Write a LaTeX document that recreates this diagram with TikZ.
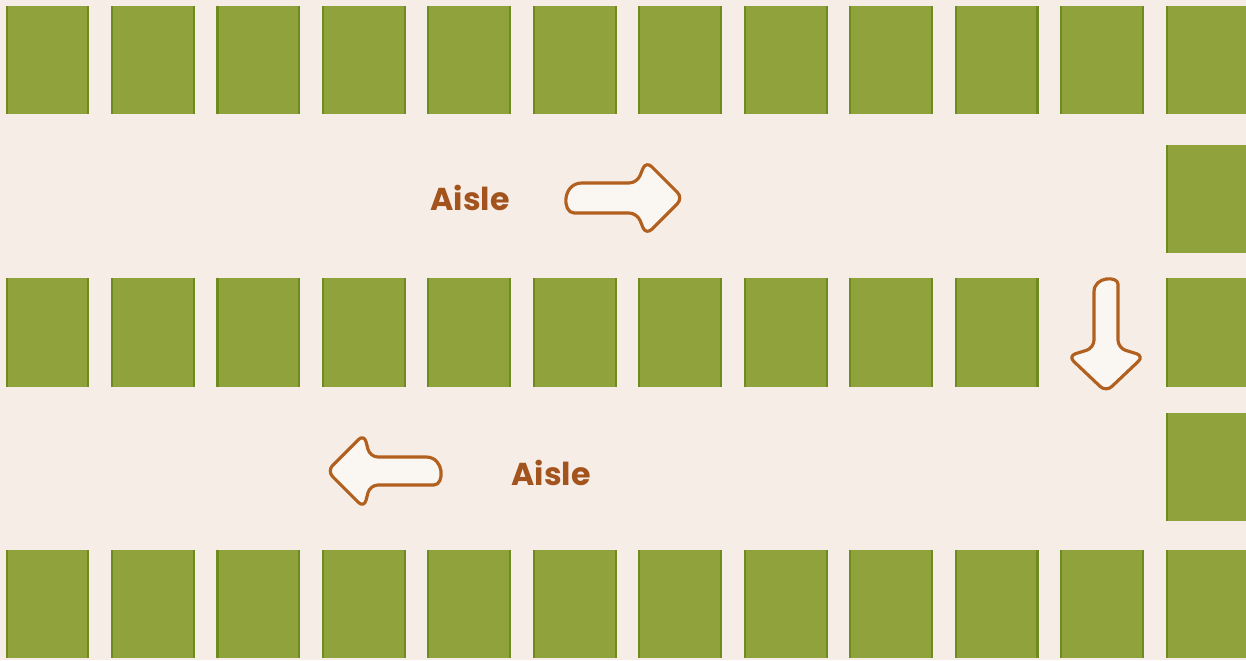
\documentclass[tikz,border=0pt]{standalone}
\usepackage{fontspec}
\setmainfont{Poppins}
\definecolor{bgcol}{HTML}{F6EEE6}
\definecolor{stallcol}{HTML}{8FA23B}
\definecolor{stalledge}{HTML}{6F8A1E}
\definecolor{arrowcol}{HTML}{B2601F}
\definecolor{textcol}{HTML}{A2531E}
\newcommand\stall[3]{%
  \fill[stallcol] (#1,#2) rectangle (#1+83,#3);
  \draw[stalledge,line width=1.2pt] (#1+0.6,#2) -- (#1+0.6,#3) (#1+82.4,#2) -- (#1+82.4,#3);}
\begin{document}
\begin{tikzpicture}[x=0.02cm,y=-0.02cm,
  arrowshape/.style={draw=arrowcol,line width=1.8pt,fill=white!50!bgcol,rounded corners=4.5pt,line join=round},
  aisle/.style={text=textcol,font=\bfseries\fontsize{18}{21}\selectfont,inner sep=0pt}]
\useasboundingbox (0,0) rectangle (1246,660);
\clip (0,0) rectangle (1246,660);
\fill[bgcol] (0,0) rectangle (1246,660);
% top and bottom rows
\foreach \i in {0,...,11}{
  \pgfmathsetmacro\xx{6+105.45*\i}
  \stall{\xx}{6}{114}
  \stall{\xx}{550}{658}
}
% middle row
\foreach \i in {0,...,9}{
  \pgfmathsetmacro\xx{6+105.45*\i}
  \stall{\xx}{278}{387}
}
% right column
\stall{1166}{145}{253}
\stall{1166}{278}{387}
\stall{1166}{413}{521}
% arrows
\draw[arrowshape] (610,183) -- (637,183) -- (646,161) -- (683,198) -- (646,235) -- (637,213) -- (582,213)
  [sharp corners] .. controls (562,213) and (562,183) .. (582,183) -- cycle;
\draw[arrowshape] (1094,320) -- (1094,348) -- (1068,356) -- (1106,392) -- (1144,356) -- (1118,348) -- (1118,292)
  [sharp corners] .. controls (1118,276) and (1094,276) .. (1094,292) -- cycle;
\draw[arrowshape] (400,457) -- (370,457) -- (364,434) -- (327,471) -- (364,508) -- (370,485) -- (426,485)
  [sharp corners] .. controls (444.7,485) and (444.7,457) .. (426,457) -- cycle;
% labels
\node[aisle] (a1) at (470,198) {Aisle};
\node[aisle] (a2) at (551,473) {Aisle};
\end{tikzpicture}
\end{document}
